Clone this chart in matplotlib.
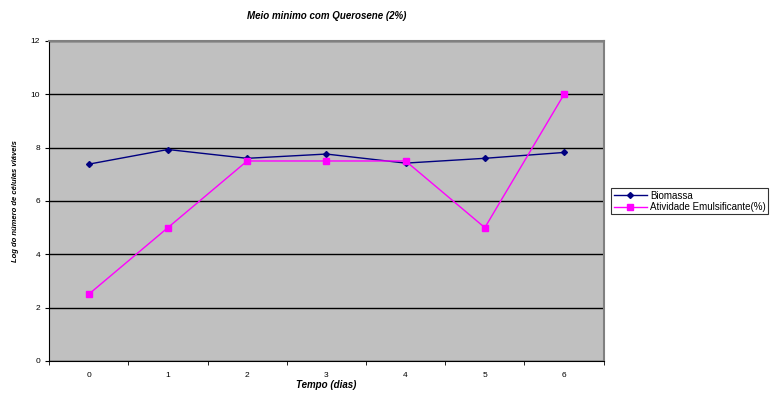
import matplotlib
matplotlib.use('Agg')
import matplotlib.pyplot as plt
import numpy as np

plt.rcParams['font.family'] = ['Liberation Sans', 'DejaVu Sans']

dias = [0, 1, 2, 3, 4, 5, 6]
biomassa = [7.38, 7.93, 7.6, 7.76, 7.42, 7.6, 7.82]
emulsificante = [2.5, 5.0, 7.5, 7.5, 7.5, 5.0, 10.0]

fig = plt.figure(figsize=(7.71, 3.94), dpi=100)
ax = fig.add_axes([0.0636, 0.0838, 0.7194, 0.8122])
ax.set_facecolor('#C0C0C0')

x = np.arange(len(dias))
ax.plot(x, biomassa, color='#000080', marker='D', markersize=3, lw=1,
        label='Biomassa', zorder=3)
ax.plot(x, emulsificante, color='#FF00FF', marker='s', markersize=5, lw=1,
        label='Atividade Emulsificante(%)', zorder=3)

ax.set_xlim(-0.5, len(dias) - 0.5)
ax.set_ylim(0, 12)
ax.set_yticks(np.arange(0, 13, 2))
ax.yaxis.grid(True, color='black', lw=1)
ax.set_axisbelow(True)

ax.set_xticks(x)
ax.set_xticklabels([str(d) for d in dias])
ax.set_xticks(np.arange(-0.5, len(dias), 1), minor=True)
ax.tick_params(axis='x', which='major', length=0, pad=8, labelsize=6)
ax.tick_params(axis='x', which='minor', length=3, direction='out')
ax.tick_params(axis='y', length=3, direction='out', labelsize=6)

for s in ['top', 'right']:
    ax.spines[s].set_color('#808080')
    ax.spines[s].set_linewidth(1.5)
ax.spines['left'].set_color('black')
ax.spines['bottom'].set_color('black')

ax.set_title('Meio minimo com Querosene (2%)', fontsize=7, fontweight='bold',
             style='italic', pad=16)
ax.set_xlabel('Tempo (dias)', fontsize=7, fontweight='bold', style='italic',
              labelpad=1)
ax.set_ylabel('Log do número de células viáveis', fontsize=5.5, fontweight='bold',
              style='italic', labelpad=8)

leg = ax.legend(loc='upper left', bbox_to_anchor=(1.014, 0.54), fontsize=7,
                frameon=True, fancybox=False, edgecolor='black',
                borderpad=0.25, labelspacing=0.15, handlelength=3.4,
                handletextpad=0.3, borderaxespad=0)
leg.get_frame().set_linewidth(0.8)

fig.savefig('out.png', dpi=100)
